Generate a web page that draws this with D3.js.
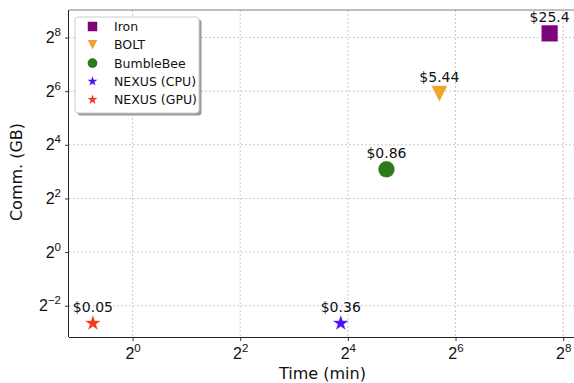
<!DOCTYPE html>
<html>
<head>
<meta charset="utf-8">
<script src="https://cdn.jsdelivr.net/npm/d3@7"></script>
<style>
  body { margin: 0; background: #fff; }
  svg { font-family: "DejaVu Sans", sans-serif; }
</style>
</head>
<body>
<svg id="chart" width="574" height="383"></svg>
<script>
// data
var systems = ['Iron', 'BOLT', 'BumbleBee', 'NEXUS (CPU)', 'NEXUS (GPU)'];
var timeMin = [215, 52, 26.3, 14.6, 0.6];
var commGB = [285, 59.8, 8.5, 0.159, 0.159];
var costs = ['$25.4', '$5.44', '$0.86', '$0.36', '$0.05'];
var xTickExp = [0, 2, 4, 6, 8];
var yTickExp = [-2, 0, 2, 4, 6, 8];

var colors = ['#7b057b', '#efa42c', '#2b7a1c', '#4a12f5', '#ee3a1f'];
var shapes = ['square', 'tri', 'circle', 'star', 'star'];

var width = 574, height = 383;
var margin = { left: 69, right: -2, top: 10, bottom: 46 };

var svg = d3.select('#chart');

var x = d3.scaleLog().base(2)
	.domain([0.441, 302])
	.range([margin.left, width - margin.right]);
var y = d3.scaleLog().base(2)
	.domain([0.1114, 521.5])
	.range([height - margin.bottom, margin.top]);

// custom triangle pointing down, same width and height like matplotlib 'v'
var triDown = {
	draw: function(ctx, size) {
		var s = Math.sqrt(size) / 2;
		ctx.moveTo(-s, -s);
		ctx.lineTo(s, -s);
		ctx.lineTo(0, s);
		ctx.closePath();
	}
};

function symbolFor(shape, big) {
	if (shape === 'square') return d3.symbol(d3.symbolSquare, big ? 272 : 90)();
	if (shape === 'tri') return d3.symbol(triDown, big ? 256 : 90)();
	if (shape === 'circle') return d3.symbol(d3.symbolCircle, big ? 216 : 75)();
	return d3.symbol(d3.symbolStar, big ? 80 : 30)();
}

// grid
var grid = svg.append('g').attr('class', 'grid');
grid.selectAll('.vx').data(xTickExp).enter()
	.append('line')
	.attr('x1', function(d) { return x(Math.pow(2, d)); })
	.attr('x2', function(d) { return x(Math.pow(2, d)); })
	.attr('y1', margin.top)
	.attr('y2', height - margin.bottom)
	.attr('stroke', '#bdbdbd')
	.attr('stroke-width', 0.8)
	.attr('stroke-dasharray', '2,2');
grid.selectAll('.hy').data(yTickExp).enter()
	.append('line')
	.attr('y1', function(d) { return y(Math.pow(2, d)); })
	.attr('y2', function(d) { return y(Math.pow(2, d)); })
	.attr('x1', margin.left)
	.attr('x2', width - margin.right)
	.attr('stroke', '#bdbdbd')
	.attr('stroke-width', 0.8)
	.attr('stroke-dasharray', '2,2');

// axes
var xAxis = d3.axisBottom(x)
	.tickValues(xTickExp.map(function(e) { return Math.pow(2, e); }))
	.tickSize(4)
	.tickFormat('');
var yAxis = d3.axisLeft(y)
	.tickValues(yTickExp.map(function(e) { return Math.pow(2, e); }))
	.tickSize(4)
	.tickFormat('');

var gx = svg.append('g')
	.attr('transform', 'translate(0,' + (height - margin.bottom) + ')')
	.call(xAxis);
var gy = svg.append('g')
	.attr('transform', 'translate(' + margin.left + ',0)')
	.call(yAxis);
[gx, gy].forEach(function(g) {
	g.select('.domain').attr('stroke', '#222').attr('stroke-width', 1);
	g.selectAll('.tick line').attr('stroke', '#222').attr('stroke-width', 0.9);
});
gx.select('.domain').attr('d', 'M' + margin.left + ',0.5H' + (width - margin.right));
gy.select('.domain').attr('d', 'M-0.5,' + margin.top + 'V' + (height - margin.bottom));

// top spine
svg.append('line')
	.attr('x1', margin.left).attr('x2', width)
	.attr('y1', margin.top).attr('y2', margin.top)
	.attr('stroke', '#808080').attr('stroke-width', 1.2);

// tick labels with superscript
gx.selectAll('.tick').each(function(d, i) {
	var t = d3.select(this).append('text')
		.attr('y', 22)
		.attr('fill', '#111')
		.attr('text-anchor', 'middle')
		.style('font-size', '16px');
	t.append('tspan').text('2');
	t.append('tspan').attr('dy', -7).style('font-size', '11.5px').text(xTickExp[i]);
});
gy.selectAll('.tick').each(function(d, i) {
	var e = yTickExp[i];
	var t = d3.select(this).append('text')
		.attr('x', -8)
		.attr('y', 5)
		.attr('fill', '#111')
		.attr('text-anchor', 'end')
		.style('font-size', '16px');
	t.append('tspan').text('2');
	t.append('tspan').attr('dy', -7).style('font-size', '11.5px').text(e < 0 ? '\u2212' + (-e) : e);
});

// axis labels
svg.append('text')
	.attr('x', (margin.left + width - margin.right) / 2)
	.attr('y', 379)
	.attr('text-anchor', 'middle')
	.style('font-size', '16px')
	.attr('fill', '#111')
	.text('Time (min)');
svg.append('text')
	.attr('transform', 'translate(22,172) rotate(-90)')
	.attr('text-anchor', 'middle')
	.style('font-size', '16px')
	.attr('fill', '#111')
	.text('Comm. (GB)');

// points
var pts = systems.map(function(s, i) {
	return { name: s, t: timeMin[i], c: commGB[i], cost: costs[i], color: colors[i], shape: shapes[i] };
});

var marks = svg.selectAll('.pt').data(pts).enter()
	.append('g')
	.attr('class', 'pt')
	.attr('transform', function(d) { return 'translate(' + x(d.t) + ',' + y(d.c) + ')'; });
marks.append('path')
	.attr('d', function(d) { return symbolFor(d.shape, true); })
	.attr('fill', function(d) { return d.color; })
	.attr('stroke', 'rgba(255,255,255,0.35)')
	.attr('stroke-width', 0.8);
marks.append('text')
	.attr('y', -11.5)
	.attr('text-anchor', 'middle')
	.style('font-size', '14px')
	.attr('fill', '#111')
	.text(function(d) { return d.cost; });

// legend
var lg = svg.append('g').attr('transform', 'translate(75,17)');
lg.append('rect')
	.attr('x', 2.5).attr('y', 2.5)
	.attr('width', 124).attr('height', 96)
	.attr('rx', 3)
	.attr('fill', '#9a9a9a');
lg.append('rect')
	.attr('width', 124).attr('height', 96)
	.attr('rx', 3)
	.attr('fill', '#fff')
	.attr('stroke', '#cccccc')
	.attr('stroke-width', 1);
var items = lg.selectAll('.item').data(pts).enter()
	.append('g')
	.attr('transform', function(d, i) { return 'translate(0,' + (9.5 + i * 18.3) + ')'; });
items.append('path')
	.attr('transform', 'translate(17.5,0)')
	.attr('d', function(d) { return symbolFor(d.shape, false); })
	.attr('fill', function(d) { return d.color; });
items.append('text')
	.attr('x', 39)
	.attr('y', 4.5)
	.style('font-size', '12.5px')
	.attr('fill', '#111')
	.text(function(d) { return d.name; });
</script>
</body>
</html>
